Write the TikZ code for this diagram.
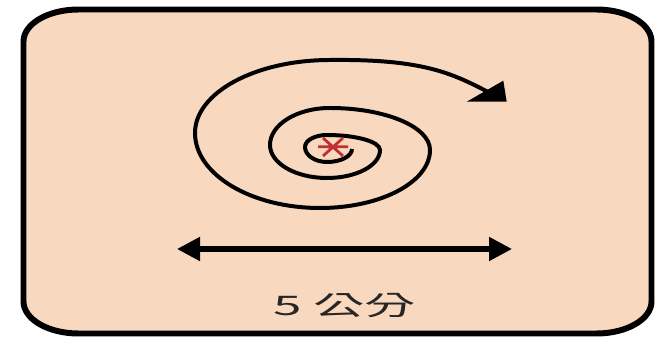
\documentclass[tikz,border=0pt]{standalone}
\usepackage{fontspec}
\newfontfamily\cjk{Noto Sans CJK TC}
\usetikzlibrary{arrows.meta}
\definecolor{peach}{RGB}{248,217,192}
\definecolor{starred}{RGB}{192,48,48}

\begin{document}
\begin{tikzpicture}[x=0.3mm, y=0.3mm,
  spiral/.style={line width=3.4pt},
  dimline/.style={line width=4.3pt,
    {Triangle[length=6.9mm,width=6.9mm]}-{Triangle[length=6.9mm,width=6.9mm]}}]

  \useasboundingbox (0,0) rectangle (665,340);

  % frame
  \draw[line width=5.1pt, fill=peach]
    (78.5,6.5) -- (596.5,6.5)
    arc[start angle=-90, end angle=0, x radius=55, y radius=32]
    -- (651.5,298.5)
    arc[start angle=0, end angle=90, x radius=55, y radius=32]
    -- (78.5,330.5)
    arc[start angle=90, end angle=180, x radius=55, y radius=32]
    -- (23.5,38.5)
    arc[start angle=180, end angle=270, x radius=55, y radius=32]
    -- cycle;

  % ---- spiral, quarter by quarter (right, bottom, left, top) ----
  \draw[spiral] (352,191)
    arc[start angle=0,   end angle=-90,  x radius=25,  y radius=13]
    arc[start angle=-90, end angle=-180, x radius=22,  y radius=15]
    arc[start angle=180, end angle=90,   x radius=22,  y radius=12]
    arc[start angle=90,  end angle=0,    x radius=53,  y radius=15]
    arc[start angle=0,   end angle=-90,  x radius=53,  y radius=28]
    arc[start angle=-90, end angle=-180, x radius=57,  y radius=33]
    arc[start angle=180, end angle=90,   x radius=60,  y radius=37]
    arc[start angle=90,  end angle=0,    x radius=100, y radius=42]
    arc[start angle=0,   end angle=-90,  x radius=110, y radius=58]
    arc[start angle=-90, end angle=-180, x radius=125, y radius=75]
    arc[start angle=180, end angle=90,   x radius=135, y radius=73]
    .. controls (420,281) and (450,268) .. (488,248);
  \fill (466.7,238.3) -- (503.3,259.3) -- (506.7,238.3) -- cycle;

  % centre mark
  \draw[starred, line width=2.4pt]
    (318,193.3) -- (348,193.3)
    (323,202) -- (343,184)
    (323,184) -- (343,202);

  % ---- width ----
  \coordinate (dimL) at (177,91);
  \coordinate (dimR) at (512,91);
  \draw[dimline] (dimL) -- (dimR);
  \node[font=\cjk\fontsize{23pt}{23pt}\selectfont, text=black!85,
        xscale=1.9, transform shape] (len) at (345,34) {5 公分};

\end{tikzpicture}
\end{document}
